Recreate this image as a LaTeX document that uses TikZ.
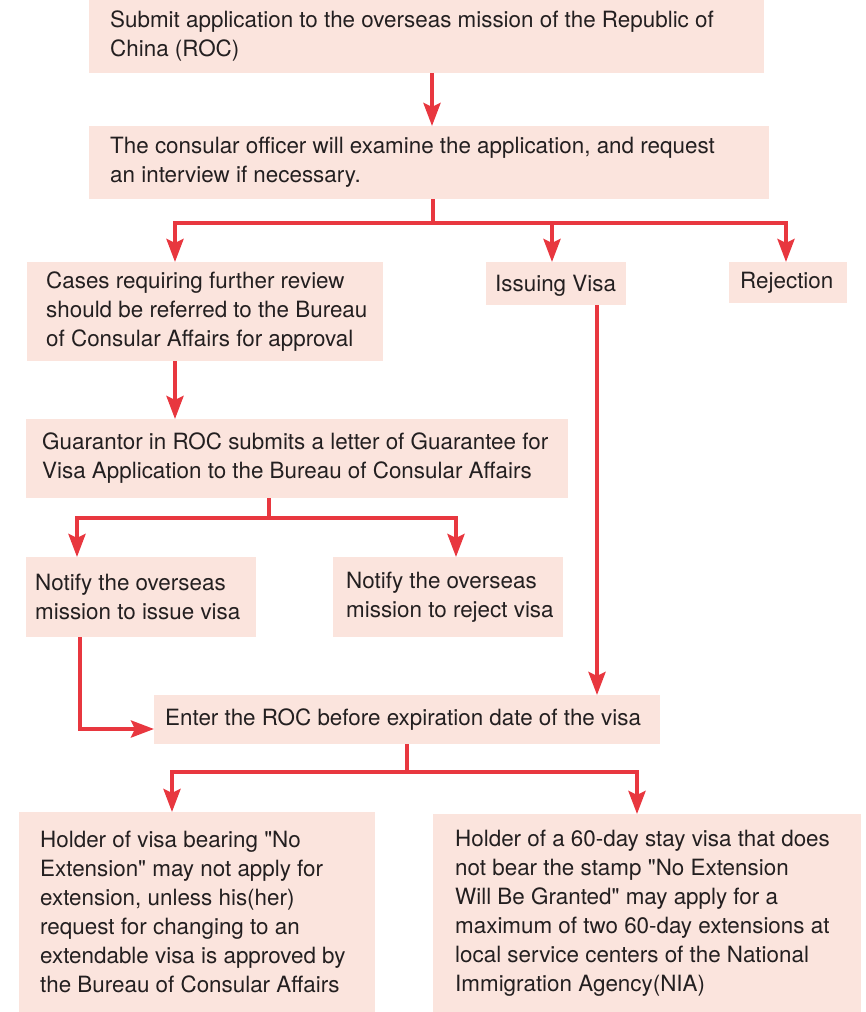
\documentclass[tikz,border=0pt]{standalone}
\usepackage{fontspec}
\setmainfont{TeX Gyre Heros}
\newfontfamily\heros{TeX Gyre Heros}
\usetikzlibrary{arrows.meta}
\definecolor{boxfill}{HTML}{FBE4DD}
\definecolor{linered}{HTML}{E8373F}
\definecolor{txt}{HTML}{231F20}
\begin{document}
\begin{tikzpicture}[x=1pt,y=-1pt,
  box/.style={fill=boxfill, draw=none, inner sep=0pt, outer sep=0pt, anchor=north west},
  lbl/.style={anchor=west, align=left, inner sep=0pt, text=txt, font=\heros\fontsize{22.4}{29}\selectfont},
  ln/.style={draw=linered, line width=4pt},
  arr/.style={ln, -{Stealth[length=23pt, width=17pt, inset=4pt]}}]
\useasboundingbox (0,0) rectangle (865,1012);
% boxes
\node[box, minimum width=675pt, minimum height=73pt] (b1) at (89,0) {};
\node[box, minimum width=680pt, minimum height=73pt] (b2) at (89,126) {};
\node[box, minimum width=356pt, minimum height=99pt] (b3) at (27,262) {};
\node[box, minimum width=140pt, minimum height=43pt] (b4) at (486,262) {};
\node[box, minimum width=118pt, minimum height=41pt] (b5) at (729,262) {};
\node[box, minimum width=542pt, minimum height=79pt] (b6) at (26,419) {};
\node[box, minimum width=230pt, minimum height=80pt] (b7) at (26,557) {};
\node[box, minimum width=230pt, minimum height=80pt] (b8) at (333,557) {};
\node[box, minimum width=506pt, minimum height=49pt] (b9) at (154,695) {};
\node[box, minimum width=356pt, minimum height=200pt] (b10) at (19,812) {};
\node[box, minimum width=428pt, minimum height=198pt] (b11) at (433,814) {};
% texts
\node[lbl, xshift=21pt] (t1) at (b1.west) {Submit application to the overseas mission of the Republic of\\China (ROC)};
\node[lbl, xshift=21pt] (t2) at (b2.west) {The consular officer will examine the application, and request\\an interview if necessary.};
\node[lbl, xshift=19pt] (t3) at (b3.west) {Cases requiring further review\\should be referred to the Bureau\\of Consular Affairs for approval};
\node[lbl, xshift=9pt, yshift=-2pt] (t4) at (b4.west) {Issuing Visa};
\node[lbl, xshift=11pt] (t5) at (b5.west) {Rejection};
\node[lbl, xshift=16pt] (t6) at (b6.west) {Guarantor in ROC submits a letter of Guarantee for\\Visa Application to the Bureau of Consular Affairs};
\node[lbl, xshift=9pt] (t7) at (b7.west) {Notify the overseas\\mission to issue visa};
\node[lbl, xshift=13pt] (t8) at (b8.west) {Notify the overseas\\mission to reject visa};
\node[lbl, xshift=11pt] (t9) at (b9.west) {Enter the ROC before expiration date of the visa};
\node[lbl, xshift=21pt] (t10) at (b10.west) {Holder of visa bearing "No\\Extension" may not apply for\\extension, unless his(her)\\request for changing to an\\extendable visa is approved by\\the Bureau of Consular Affairs};
\node[lbl, xshift=22pt] (t11) at (b11.west) {Holder of a 60-day stay visa that does\\not bear the stamp "No Extension\\Will Be Granted" may apply for a\\maximum of two 60-day extensions at\\local service centers of the National\\Immigration Agency(NIA)};
% helper coordinates
\coordinate (c1) at (432,0);
\coordinate (bus1) at (433,223);
\coordinate (x3) at (175,0);
\coordinate (xv) at (552,0);
\coordinate (xr) at (786,0);
\coordinate (bus2) at (269,518);
\coordinate (x7) at (77,0);
\coordinate (x8) at (456,0);
\coordinate (x9) at (597,0);
\coordinate (x80) at (80,0);
\coordinate (y729) at (0,729);
\coordinate (bus3) at (407,772);
\coordinate (x10) at (172,0);
\coordinate (x11) at (637,0);
% connectors
\draw[arr] (b1.south -| c1) -- (b2.north -| c1);
\draw[ln] (b2.south -| bus1) -- (bus1);
\draw[arr] (bus1) -| (b3.north -| x3);
\draw[arr] (bus1) -| (b4.north -| xv);
\draw[arr] (bus1) -| (b5.north -| xr);
\draw[arr] (b3.south -| x3) -- (b6.north -| x3);
\draw[ln] (b6.south -| bus2) -- (bus2);
\draw[arr] (bus2) -| (b7.north -| x7);
\draw[arr] (bus2) -| (b8.north -| x8);
\draw[arr] (b4.south -| x9) -- (b9.north -| x9);
\draw[arr] (b7.south -| x80) |- (b9.west |- y729);
\draw[ln] (b9.south -| bus3) -- (bus3);
\draw[arr] (bus3) -| (b10.north -| x10);
\draw[arr] (bus3) -| (b11.north -| x11);
\end{tikzpicture}
\end{document}
